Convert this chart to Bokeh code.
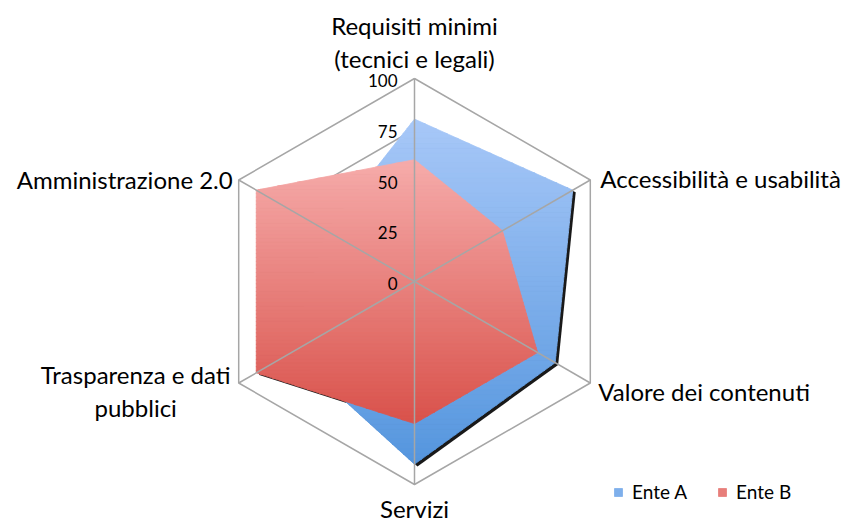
from bokeh.plotting import figure
from bokeh.models import Range1d, ColumnDataSource, Legend, LegendItem
from bokeh.core.properties import value
from bokeh.embed import file_html
from bokeh.resources import INLINE
import numpy as np

# ---------------- data ----------------
categories = ["Requisiti minimi\n(tecnici e legali)", "Accessibilità e usabilità",
              "Valore dei contenuti", "Servizi", "Trasparenza e dati\npubblici",
              "Amministrazione 2.0"]
ente_a = [80, 90, 80, 90, 70, 50]
ente_b = [60, 50, 70, 70, 90, 90]
ring_ticks = [0, 25, 50, 75, 100]
series_names = ["Ente A", "Ente B"]

# ---------------- layout ----------------
W, H = 842, 521
CX, CY = 414, 281          # centre of the radar in frame pixels (from top-left)
S = 2.03                   # pixels per value unit
FONT = "Lato"

p = figure(width=W, height=H, output_backend="svg", toolbar_location=None,
           x_axis_type=None, y_axis_type=None, min_border=0,
           x_range=Range1d(-CX / S, (W - CX) / S),
           y_range=Range1d(-(H - CY) / S, CY / S))
p.grid.visible = False
p.outline_line_color = None
p.background_fill_color = "white"

n = len(categories)
angles = np.pi / 2 - np.arange(n) * 2 * np.pi / n


def polar(vals):
    v = np.asarray(vals, dtype=float)
    return v * np.cos(angles), v * np.sin(angles)


# rings (under the fills)
for t in ring_ticks[1:]:
    rx, ry = polar([t] * n)
    p.line(list(rx) + [rx[0]], list(ry) + [ry[0]], line_color="#a6a6a6", line_width=1.5)


def clip(poly, lim, above):
    out = []
    for i in range(len(poly)):
        cur, prev = poly[i], poly[i - 1]
        cin = cur[1] >= lim if above else cur[1] <= lim
        pin = prev[1] >= lim if above else prev[1] <= lim
        if cin != pin:
            t = (lim - prev[1]) / (cur[1] - prev[1])
            out.append((prev[0] + t * (cur[0] - prev[0]), lim))
        if cin:
            out.append(cur)
    return out


def mix(c1, c2, t):
    a = [int(c1[i:i + 2], 16) for i in (1, 3, 5)]
    b = [int(c2[i:i + 2], 16) for i in (1, 3, 5)]
    return "#%02x%02x%02x" % tuple(round(a[k] + (b[k] - a[k]) * t) for k in range(3))


def gradient_patches(vals, top, bottom, nb=70):
    x, y = polar(vals)
    poly = list(zip(x, y))
    ymax, ymin = max(y), min(y)
    xs, ys, cs = [], [], []
    h = (ymax - ymin) / nb
    for i in range(nb):
        y1 = ymax - i * h
        y0 = y1 - h
        band = clip(clip(poly, y1 + 0.25, False), y0, True)
        if len(band) >= 3:
            xs.append([q[0] for q in band])
            ys.append([q[1] for q in band])
            cs.append(mix(top, bottom, (i + 0.5) / nb))
    return ColumnDataSource(dict(xs=xs, ys=ys, c=cs))


# shadows (under all fills)
sdx, sdy = 3.0 / S, -2.2 / S
for vals in (ente_a, ente_b):
    x, y = polar(vals)
    p.patch(x + sdx, y + sdy, fill_color="black", fill_alpha=0.9, line_color=None)

colors = [("#a8c8f8", "#5596de"), ("#f6acab", "#d9524b")]
fill_renderers = []
for vals, (c1, c2) in zip((ente_a, ente_b), colors):
    src = gradient_patches(vals, c1, c2)
    r = p.patches("xs", "ys", source=src, fill_color="c", line_color="c", line_width=0.8)
    fill_renderers.append((r, len(src.data["xs"]) // 2))

# spokes (over the fills)
sx, sy = polar([100] * n)
p.segment(x0=[0] * n, y0=[0] * n, x1=sx, y1=sy, line_color="#a6a6a6", line_width=1.5)

# tick labels
p.text(x=[0] * len(ring_ticks), y=ring_ticks, text=[str(t) for t in ring_ticks],
       x_offset=-17, y_offset=2, text_align="right", text_baseline="middle",
       text_font=value(FONT), text_font_size="17px", text_color="black")

# category labels
aligns = ["center", "left", "left", "center", "center", "right"]
baselines = ["bottom", "middle", "middle", "top", "middle", "middle"]
xoffs = [0, 10, 8, 0, -103, -6]
yoffs = [-5, -2, 8, 9, 8, -1]
for i in range(n):
    p.text(x=[sx[i]], y=[sy[i]], text=[categories[i]], x_offset=xoffs[i], y_offset=yoffs[i],
           text_align=aligns[i], text_baseline=baselines[i], text_line_height=1.15,
           text_font=value(FONT), text_font_size="24px", text_color="black")

# legend
leg = Legend(items=[LegendItem(label=series_names[k], renderers=[fill_renderers[k][0]],
                               index=fill_renderers[k][1]) for k in range(2)],
             orientation="horizontal", location=(613, 18), padding=0, margin=0,
             spacing=30, glyph_width=10, glyph_height=10, label_standoff=9,
             label_text_font=FONT, label_text_font_size="19px", label_text_color="black",
             border_line_color=None, background_fill_alpha=0)
p.add_layout(leg)

open("out.html", "w").write(file_html(p, INLINE))
